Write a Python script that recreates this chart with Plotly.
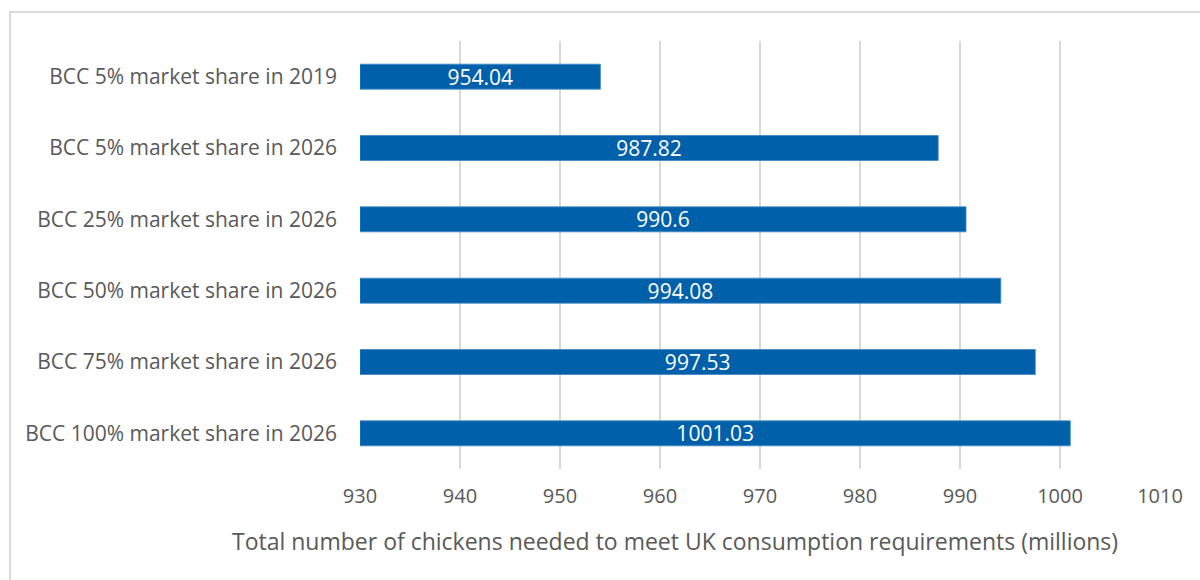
import numpy as np
import plotly.graph_objects as go

# Scenario labels (top to bottom) and chicken numbers in millions
categories = [
    "BCC 5% market share in 2019",
    "BCC 5% market share in 2026",
    "BCC 25% market share in 2026",
    "BCC 50% market share in 2026",
    "BCC 75% market share in 2026",
    "BCC 100% market share in 2026",
]
values = [954.04, 987.82, 990.6, 994.08, 997.53, 1001.03]
value_labels = ["954.04", "987.82", "990.6", "994.08", "997.53", "1001.03"]

axis_min, axis_max = 930, 1010
tick_vals = list(range(930, 1011, 10))

FONT = "'Open Sans', sans-serif"
GREY = "#595959"
BLUE = "#0060A9"

fig = go.Figure()
fig.add_trace(
    go.Bar(
        y=categories,
        x=np.array(values) - axis_min,
        base=axis_min,
        orientation="h",
        width=0.35,
        marker=dict(color=BLUE, line=dict(color="#3F87C4", width=0.8)),
        text=value_labels,
        textposition="inside",
        insidetextanchor="middle",
        constraintext="none",
        textangle=0,
        textfont=dict(color="white", size=21, family=FONT),
        hoverinfo="skip",
    )
)

fig.update_layout(
    width=1200,
    height=580,
    margin=dict(l=360, r=40, t=41, b=111),
    paper_bgcolor="white",
    plot_bgcolor="white",
    showlegend=False,
    font=dict(family=FONT, color=GREY, size=20),
)
fig.update_xaxes(
    range=[axis_min, axis_max],
    tickvals=tick_vals,
    showgrid=True,
    gridcolor="#D9D9D9",
    gridwidth=1.5,
    zeroline=False,
    showline=False,
    ticks="",
    ticklen=0,
    ticklabelstandoff=13,
    tickfont=dict(size=20, color=GREY, family=FONT),
)
fig.update_yaxes(
    categoryorder="array",
    categoryarray=categories,
    autorange="reversed",
    showgrid=False,
    zeroline=False,
    showline=False,
    ticks="",
    ticklabelstandoff=22,
    tickfont=dict(size=21, color=GREY, family=FONT),
)

# Axis title, centred under the whole chart
fig.add_annotation(
    text="Total number of chickens needed to meet UK consumption requirements (millions)",
    xref="paper", yref="paper",
    x=(675 - 360) / 800, y=-(541 - 469) / 428,
    xanchor="center", yanchor="middle",
    showarrow=False,
    font=dict(size=23, color=GREY, family=FONT),
)

# Chart frame
fig.add_shape(
    type="rect",
    xref="paper", yref="paper",
    x0=-(360 - 10) / 800, x1=(1240 - 360) / 800,
    y0=-(620 - 469) / 428, y1=(469 - 12) / 428,
    line=dict(color="#D9D9D9", width=2),
    fillcolor="rgba(0,0,0,0)",
    layer="below",
)

fig.write_html("out.html")
